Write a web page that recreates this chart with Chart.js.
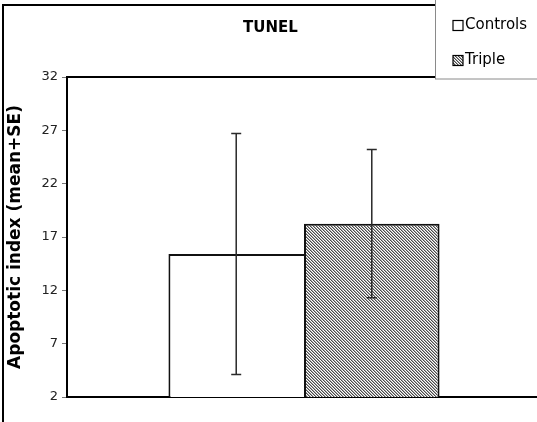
<!DOCTYPE html>
<html>
<head>
<meta charset="utf-8">
<script src="https://cdn.jsdelivr.net/npm/chart.js@4.4.1/dist/chart.umd.min.js"></script>
<style>
  html, body { margin: 0; padding: 0; background: #fff; overflow: hidden; }
  #wrap { position: relative; width: 545px; height: 422px; }
</style>
</head>
<body>
<div id="wrap"><canvas id="c" width="545" height="422"></canvas></div>
<script>
// Apoptotic index measured by TUNEL, mean with standard error
const categories = [''];
const seriesNames = ['Controls', 'Triple'];
const meanValues = [15.4, 18.25];
const seValues = [11.3, 6.95];
const yTicks = [2, 7, 12, 17, 22, 27, 32];

// fine diagonal hatch fill
function makeHatch() {
  const t = document.createElement('canvas');
  t.width = 3; t.height = 3;
  const g = t.getContext('2d');
  g.fillStyle = '#ffffff';
  g.fillRect(0, 0, 3, 3);
  for (let i = 0; i < 3; i++) {
    g.fillStyle = '#4a4a4a';
    g.fillRect(i, i, 1, 1);
    g.fillStyle = '#a8a8a8';
    g.fillRect((i + 1) % 3, i, 1, 1);
  }
  return g.createPattern(t, 'repeat');
}
const hatch = makeHatch();
const fills = ['#ffffff', hatch];
const borders = [
  { left: 2, top: 2, right: 0, bottom: 0 },
  { left: 2, top: 2, right: 2, bottom: 0 }
];

// outer frame of the figure and top edge of the plot
const framePlugin = {
  id: 'frame',
  beforeDraw(chart) {
    const ctx = chart.ctx;
    const a = chart.chartArea;
    ctx.save();
    ctx.strokeStyle = '#000';
    ctx.lineWidth = 2;
    ctx.beginPath();
    ctx.moveTo(3, 422);
    ctx.lineTo(3, 5);
    ctx.lineTo(545, 5);
    ctx.stroke();
    ctx.beginPath();
    ctx.moveTo(a.left, a.top);
    ctx.lineTo(a.right + 10, a.top);
    ctx.stroke();
    ctx.restore();
  }
};

// error bars (mean ± SE)
const errorBarPlugin = {
  id: 'errorBars',
  afterDatasetsDraw(chart) {
    const ctx = chart.ctx;
    const ys = chart.scales.y;
    ctx.save();
    ctx.strokeStyle = '#2a2a2a';
    ctx.lineWidth = 1.5;
    chart.data.datasets.forEach((ds, di) => {
      const meta = chart.getDatasetMeta(di);
      meta.data.forEach((el, i) => {
        const m = ds.data[i];
        const e = ds.se[i];
        const top = ys.getPixelForValue(m + e);
        const bot = ys.getPixelForValue(m - e);
        const x = el.x;
        ctx.beginPath();
        ctx.moveTo(x, top); ctx.lineTo(x, bot);
        ctx.moveTo(x - 5, top); ctx.lineTo(x + 5, top);
        ctx.moveTo(x - 5, bot); ctx.lineTo(x + 5, bot);
        ctx.stroke();
      });
    });
    ctx.restore();
  }
};

// boxed legend in the upper right corner
const legendBoxPlugin = {
  id: 'legendBox',
  afterDraw(chart) {
    const ctx = chart.ctx;
    ctx.save();
    ctx.fillStyle = '#fff';
    ctx.fillRect(435, -2, 120, 81);
    ctx.strokeStyle = '#8a8a8a';
    ctx.lineWidth = 1;
    ctx.strokeRect(435.5, -2, 120, 81);
    ctx.font = '15px "DejaVu Sans"';
    ctx.textBaseline = 'middle';
    ctx.textAlign = 'left';
    chart.data.datasets.forEach((ds, i) => {
      const cy = 25 + i * 35;
      ctx.fillStyle = ds.backgroundColor;
      ctx.fillRect(453, cy - 4.5, 10, 10);
      ctx.strokeStyle = '#000';
      ctx.lineWidth = 1.2;
      ctx.strokeRect(453, cy - 4.5, 10, 10);
      ctx.fillStyle = '#000';
      ctx.fillText(ds.label, 465, cy + 0.5);
    });
    ctx.restore();
  }
};

new Chart(document.getElementById('c'), {
  type: 'bar',
  data: {
    labels: categories,
    datasets: seriesNames.map((name, i) => ({
      label: name,
      data: [meanValues[i]],
      se: [seValues[i]],
      backgroundColor: fills[i],
      borderColor: '#111',
      borderWidth: borders[i],
      borderSkipped: false,
      inflateAmount: 0,
      categoryPercentage: 0.572,
      barPercentage: 1.0
    }))
  },
  options: {
    responsive: false,
    animation: false,
    devicePixelRatio: 1,
    layout: { padding: { left: 0, right: 4, top: 0, bottom: 0 } },
    plugins: {
      legend: { display: false },
      tooltip: { enabled: false },
      title: {
        display: true,
        text: 'TUNEL',
        color: '#000',
        font: { family: '"DejaVu Sans"', size: 15, weight: 'bold' },
        padding: { top: 19, bottom: 40 }
      }
    },
    scales: {
      x: {
        grid: { display: false },
        border: { display: true, color: '#000', width: 2 },
        ticks: { display: false },
        afterFit(s) { s.height = 25; }
      },
      y: {
        min: 2,
        max: 32,
        afterBuildTicks(s) { s.ticks = yTicks.map(v => ({ value: v })); },
        grid: { drawOnChartArea: false, drawTicks: true, tickLength: 5, color: '#777' },
        border: { display: true, color: '#000', width: 2 },
        ticks: {
          color: '#222',
          padding: 4,
          font: { family: '"DejaVu Sans"', size: 13 }
        },
        title: {
          display: true,
          text: 'Apoptotic index (mean+SE)',
          color: '#000',
          font: { family: '"DejaVu Sans"', size: 17, weight: 'bold' },
          padding: { top: 5, bottom: 0 }
        },
        afterFit(s) { s.width = 67; }
      }
    }
  },
  plugins: [framePlugin, errorBarPlugin, legendBoxPlugin]
});
</script>
</body>
</html>
